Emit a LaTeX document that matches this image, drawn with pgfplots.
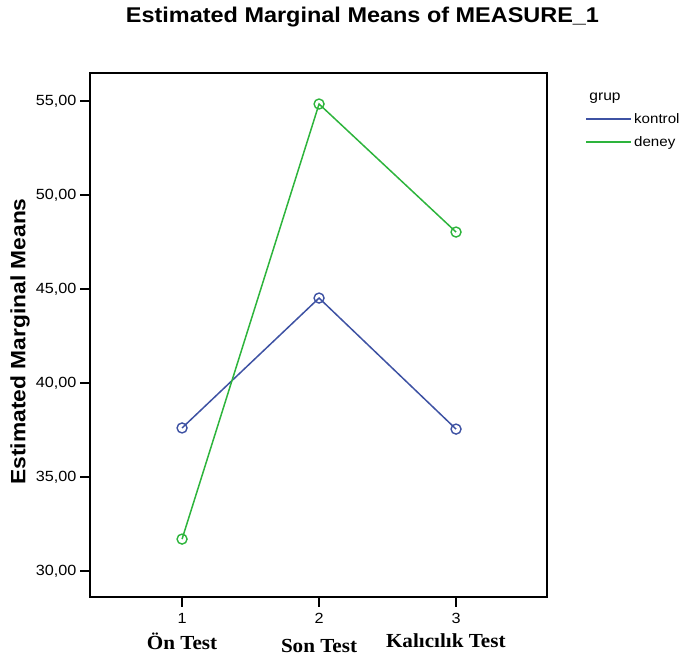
\documentclass[border=0pt]{standalone}
\usepackage{pgfplots}
\pgfplotsset{compat=1.18}
\usepackage{fontspec}
\setmainfont{Liberation Sans}[FakeStretch=1.1]
\newfontfamily\serifb{Liberation Serif}[FakeStretch=1.06]
\definecolor{kblue}{RGB}{62,82,163}
\definecolor{dgreen}{RGB}{45,180,60}
\begin{document}
\begin{tikzpicture}[x=1bp,y=1bp]
\path[use as bounding box] (0,0) rectangle (683,661);
\node[font=\bfseries\fontsize{21.4}{24}\selectfont] at (362.5,644) {Estimated Marginal Means of MEASURE\_1};
\node[font=\bfseries\fontsize{20.8}{24}\selectfont, rotate=90] at (20,319.5) {Estimated Marginal Means};
\node[font=\fontsize{14.2}{17}\selectfont] at (605,563) {grup};
\begin{axis}[
  at={(90bp,64bp)}, anchor=south west,
  scale only axis, width=457bp, height=524bp,
  xmin=0.328, xmax=3.664, ymin=28.62, ymax=56.49,
  xtick={1,2,3}, ytick={30,35,40,45,50,55},
  xtick pos=bottom, ytick pos=left,
  tick align=outside, major tick length=10bp,
  tick style={line width=1.5bp, black},
  axis line style={line width=1.5bp},
  ticklabel style={font=\fontsize{14.8}{17}\selectfont},
  xticklabel style={yshift=-3bp},
  /pgf/number format/assume math mode=true,
  yticklabel style={/pgf/number format/.cd, fixed, fixed zerofill, precision=2, use comma},
  clip=false,
  legend style={at={(1.083,0.9275)}, anchor=north west, draw=none, fill=none,
    font=\fontsize{13.8}{17}\selectfont, row sep=8bp, inner sep=0pt,
    cells={anchor=west}},
  legend image code/.code={\draw[#1] (0bp,0bp) -- (45bp,0bp);},
]
\addplot[forget plot, color=kblue, line width=1.5bp, mark=o, mark size=5bp, mark options={line width=1.4bp}]
  coordinates {(1,37.61) (2,44.52) (3,37.55)};
\addplot[forget plot, color=dgreen, line width=1.5bp, mark=o, mark size=5bp, mark options={line width=1.4bp}]
  coordinates {(1,31.70) (2,54.84) (3,48.03)};
\addlegendimage{color=kblue, line width=2bp}
\addlegendentry{kontrol}
\addlegendimage{color=dgreen, line width=2bp}
\addlegendentry{deney}
\node[font=\serifb\bfseries\fontsize{20}{22}\selectfont, anchor=base] at (axis cs:1,28.62) [yshift=-52bp] {Ön Test};
\node[font=\serifb\bfseries\fontsize{20}{22}\selectfont, anchor=base] at (axis cs:2,28.62) [yshift=-55bp] {Son Test};
\node[font=\serifb\bfseries\fontsize{20}{22}\selectfont, anchor=base] at (axis cs:2.925,28.62) [yshift=-50bp] {Kalıcılık Test};
\end{axis}
\end{tikzpicture}
\end{document}
